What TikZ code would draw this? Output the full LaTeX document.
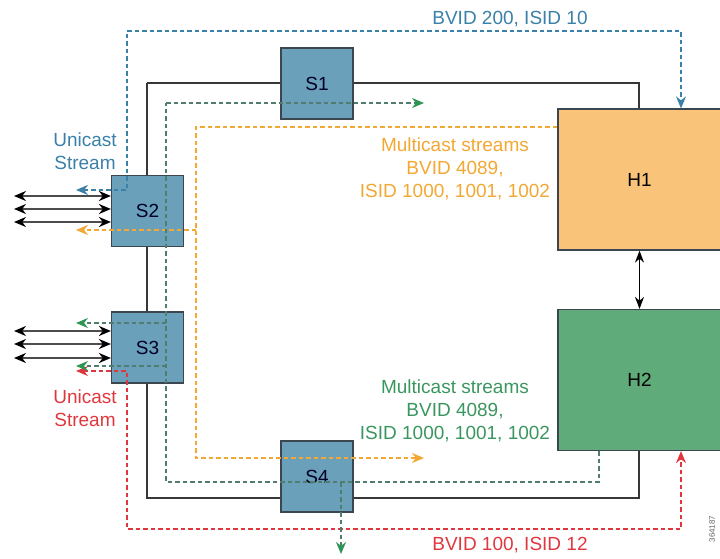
\documentclass[tikz,border=0pt]{standalone}
\usepackage{fontspec}
\setmainfont{Liberation Sans}
\usetikzlibrary{arrows.meta}
\definecolor{sboxfill}{RGB}{106,160,186}
\definecolor{boxedge}{RGB}{60,70,80}
\definecolor{hone}{RGB}{249,195,122}
\definecolor{htwo}{RGB}{95,172,122}
\definecolor{bluestream}{RGB}{58,128,168}
\definecolor{orangestream}{RGB}{242,168,50}
\definecolor{greenline}{RGB}{80,125,110}
\definecolor{greentip}{RGB}{46,150,85}
\definecolor{greentext}{RGB}{58,150,95}
\definecolor{redstream}{RGB}{224,55,62}
\definecolor{loopgray}{RGB}{55,55,55}
\begin{document}
\begin{tikzpicture}[x=1pt,y=-1pt,
  sbox/.style={draw=boxedge, fill=sboxfill, line width=1.2pt, minimum width=72pt, minimum height=71pt, inner sep=0pt, font=\fontsize{19}{22}\selectfont, text=black!85!blue},
  hbox/.style={draw=boxedge, line width=1.2pt, minimum width=163pt, minimum height=141pt, inner sep=0pt, font=\fontsize{19}{22}\selectfont},
  loopline/.style={draw=loopgray, line width=1.6pt},
  stream/.style={line width=1.2pt, dash pattern=on 4.5pt off 3pt},
  ah/.style={Stealth[length=12pt,width=10pt,#1]},
  biarrow/.style={draw=black!70, line width=2pt, {Stealth[length=12pt,width=10pt,color=black]}-{Stealth[length=12pt,width=10pt,color=black]}},
  lbl/.style={font=\fontsize{19}{23}\selectfont, align=center, inner sep=0pt}
]
\useasboundingbox (0,0) rectangle (720,559);
% coordinates of the black ring
\coordinate (LT) at (147,83);
\coordinate (RT) at (639,83);
\coordinate (LB) at (147,498);
\coordinate (RB) at (639,498);
% black ring
\draw[loopline] (LT) -- (RT) -- (639,109);
\draw[loopline] (LT) -- (LB) -- (RB) -- (639,451);
% boxes
\node[sbox] (S1) at (317,83.5) {S1};
\node[sbox] (S2) at (147.5,211) {S2};
\node[sbox] (S3) at (147.5,347.5) {S3};
\node[sbox] (S4) at (317,476.5) {S4};
\node[hbox, fill=hone] (H1) at (639.5,179.5) {H1};
\node[hbox, fill=htwo] (H2) at (639.5,380) {H2};
% H1 <-> H2
\draw[black, line width=1.5pt, {Stealth[length=12pt,width=9pt]}-{Stealth[length=12pt,width=9pt]}] (H1.south) -- (H2.north);
% access links
\foreach \yy/\nm in {196/a,209/b,222/c}{
  \coordinate (L2\nm) at (14,\yy);
  \draw[biarrow] (L2\nm) -- (L2\nm -| S2.west);
}
\foreach \yy/\nm in {331/a,344/b,358/c}{
  \coordinate (L3\nm) at (14,\yy);
  \draw[biarrow] (L3\nm) -- (L3\nm -| S3.west);
}
% blue unicast
\coordinate (BA) at (76,190);
\coordinate (BB) at (127,190);
\coordinate (BC) at (127,31);
\coordinate (BD) at (681,31);
\draw[stream, draw=bluestream, {Stealth[length=12pt,width=10pt]}-{Stealth[length=12pt,width=10pt]}] (BA) -- (BB) -- (BC) -- (BD) -- (BD |- H1.north);
% red unicast
\coordinate (RA) at (76,371);
\coordinate (RBb) at (127,371);
\coordinate (RC) at (127,529);
\coordinate (RD) at (681,529);
\draw[stream, draw=redstream, {Stealth[length=12pt,width=10pt]}-{Stealth[length=12pt,width=10pt]}] (RA) -- (RBb) -- (RC) -- (RD) -- (RD |- H2.south);
% orange multicast from H1
\coordinate (OA) at (196,127);
\coordinate (OB) at (196,458);
\coordinate (OC) at (424,458);
\coordinate (OD) at (196,230);
\coordinate (OE) at (76,230);
\draw[stream, draw=orangestream, -{Stealth[length=12pt,width=10pt,color=orangestream]}] (H1.west |- OA) -- (OA) -- (OB) -- (OC);
\draw[stream, draw=orangestream, -{Stealth[length=12pt,width=10pt,color=orangestream]}] (OD) -- (OE);
% green multicast from H2
\coordinate (GA) at (166,103);
\coordinate (GB) at (424,103);
\coordinate (GC) at (166,482);
\coordinate (GD) at (599,482);
\coordinate (GE) at (166,323);
\coordinate (GF) at (76,323);
\coordinate (GG) at (166,366);
\coordinate (GH) at (76,366);
\coordinate (GI) at (341,482);
\coordinate (GJ) at (341,554);
\draw[stream, draw=greenline] (GD |- H2.south) -- (GD) -- (GC) -- (GA);
\draw[stream, draw=greenline, -{Stealth[length=12pt,width=10pt,color=greentip]}] (GA) -- (GB);
\draw[stream, draw=greenline, -{Stealth[length=12pt,width=10pt,color=greentip]}] (GE) -- (GF);
\draw[stream, draw=greenline, -{Stealth[length=12pt,width=10pt,color=greentip]}] (GG) -- (GH);
\draw[stream, draw=greenline, -{Stealth[length=12pt,width=10pt,color=greentip]}] (GI) -- (GJ);
% labels
\node[lbl, text=bluestream] (tb) at (510,19) {BVID 200, ISID 10};
\node[lbl, text=redstream] (tr) at (510,545) {BVID 100, ISID 12};
\node[lbl, text=bluestream] (ub) at (85,151) {Unicast\\Stream};
\node[lbl, text=redstream] (ur) at (85,408) {Unicast\\Stream};
\node[lbl, text=orangestream] (mo) at (455,169) {Multicast streams\\BVID 4089,\\ISID 1000, 1001, 1002};
\node[lbl, text=greentext] (mg) at (455,411) {Multicast streams\\BVID 4089,\\ISID 1000, 1001, 1002};
\node[font=\fontsize{8}{9}\selectfont, text=black!60, rotate=90, inner sep=0pt] (fig) at (712,529) {364187};
\end{tikzpicture}
\end{document}
